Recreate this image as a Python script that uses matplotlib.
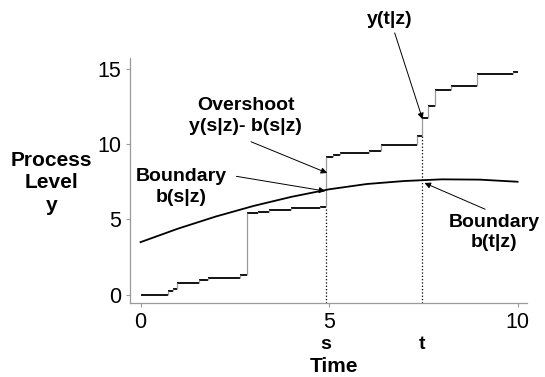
import matplotlib
matplotlib.use('Agg')
import matplotlib.pyplot as plt

plt.rcParams['font.family'] = ['Liberation Sans', 'DejaVu Sans']

# Processo em degraus: instantes de salto e nível após cada salto
t_salto = [0, 0.74, 0.86, 0.98, 1.55, 1.80, 2.65, 2.83, 3.12, 3.41, 4.00, 4.76,
           4.92, 5.11, 5.30, 6.05, 6.37, 7.34, 7.46, 7.62, 7.80, 8.24, 8.92, 9.87]
nivel = [0, 0.25, 0.38, 0.80, 1.00, 1.15, 1.30, 5.40, 5.48, 5.66, 5.74, 5.85,
         9.15, 9.30, 9.40, 9.55, 9.95, 10.52, 11.70, 12.50, 13.60, 13.85, 14.62, 14.80]
t_fim = 10.0

# Fronteira b(t|z)
t_fronteira = [0, 1, 2, 3, 4, 5, 6, 7, 8, 9, 10]
b_fronteira = [3.5, 4.4, 5.2, 5.9, 6.5, 7.0, 7.35, 7.55, 7.66, 7.64, 7.5]

s = 4.92
t = 7.46
xticks = [0, 5, 10]
yticks = [0, 5, 10, 15]

fig = plt.figure(figsize=(5.45, 3.77), dpi=100)
ax = fig.add_axes([0.2385, 0.1963, 0.7285, 0.650])

# Trechos horizontais em preto, saltos verticais em cinza
fins = t_salto[1:] + [t_fim]
ax.hlines(nivel, t_salto, fins, colors='black', linewidth=1.3)
ax.vlines(t_salto[1:], nivel[:-1], nivel[1:], colors='#9a9a9a', linewidth=0.9)

# Curva da fronteira
ax.plot(t_fronteira, b_fronteira, color='black', linewidth=1.3)

# Linhas pontilhadas nos tempos s e t
ymin = -0.53
ax.vlines([s], ymin, nivel[t_salto.index(4.76)], colors='black', linestyles=':', linewidth=0.9)
ax.vlines([t], ymin, nivel[t_salto.index(7.34)], colors='black', linestyles=':', linewidth=0.9)

ax.set_xlim(-0.28, 10.25)
ax.set_ylim(ymin, 15.7)
ax.set_xticks(xticks)
ax.set_yticks(yticks)
ax.tick_params(colors='#9a9a9a', labelcolor='black', labelsize=15.5, length=3, width=0.8)
for lado in ['top', 'right']:
    ax.spines[lado].set_visible(False)
for lado in ['left', 'bottom']:
    ax.spines[lado].set_color('#9a9a9a')
    ax.spines[lado].set_linewidth(0.9)

# Rótulos dos eixos
ax.text(-2.36, 7.42, 'Process\nLevel\ny', ha='center', va='center', fontsize=15,
        fontweight='bold', linespacing=1.25, clip_on=False)
ax.text(s, -3.25, 's', ha='center', va='center', fontsize=14, fontweight='bold', clip_on=False)
ax.text(t, -3.25, 't', ha='center', va='center', fontsize=14, fontweight='bold', clip_on=False)
ax.text(5.13, -4.75, 'Time', ha='center', va='center', fontsize=15, fontweight='bold', clip_on=False)

# Anotações com setas
seta = dict(arrowstyle='-|>', color='black', linewidth=0.7, mutation_scale=9, shrinkA=0, shrinkB=0)
ax.annotate('', xy=(7.48, 11.64), xytext=(6.74, 17.36), arrowprops=seta, annotation_clip=False)
ax.text(6.62, 18.25, 'y(t|z)', ha='center', va='center', fontsize=14, fontweight='bold', clip_on=False)

ax.annotate('', xy=(4.95, 8.08), xytext=(2.93, 10.15), arrowprops=seta)
ax.text(2.79, 11.85, 'Overshoot\ny(s|z)- b(s|z)', ha='center', va='center', fontsize=14,
        fontweight='bold', linespacing=1.25)

ax.annotate('', xy=(4.90, 6.88), xytext=(2.54, 7.86), arrowprops=seta)
ax.text(1.09, 7.15, 'Boundary\nb(s|z)', ha='center', va='center', fontsize=14,
        fontweight='bold', linespacing=1.25)

ax.annotate('', xy=(7.53, 7.42), xytext=(9.14, 5.68), arrowprops=seta)
ax.text(9.37, 4.15, 'Boundary\nb(t|z)', ha='center', va='center', fontsize=14,
        fontweight='bold', linespacing=1.25, clip_on=False)

fig.savefig('out.png', dpi=100)
